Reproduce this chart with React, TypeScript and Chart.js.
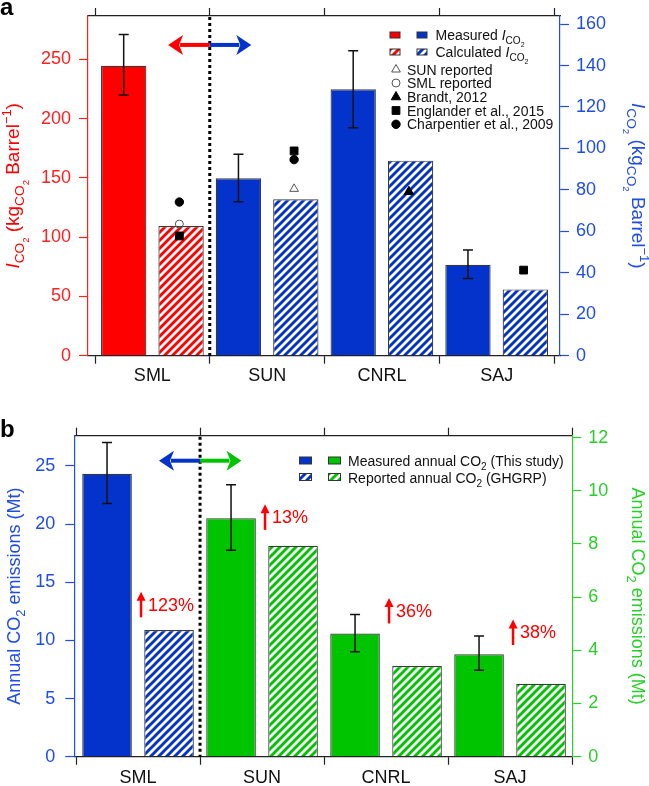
import React, { useEffect, useRef } from 'react';
import { Chart, registerables } from 'chart.js';

Chart.register(...registerables);

const FONT = "'Liberation Sans', Arial, Helvetica, sans-serif";
Chart.defaults.font.family = FONT;

// ---------------- Panel a data ----------------
const categories = ['SML', 'SUN', 'CNRL', 'SAJ'];
// true -> value belongs to the left (red) axis, false -> right (blue) axis
const onLeftAxisA = [true, false, false, false];
const measuredICO2 = [244.6, 85.6, 128.5, 43.9];
const measuredICO2Low = [219.9, 74.3, 110.0, 37.3];
const measuredICO2High = [271.0, 97.2, 147.1, 51.0];
const calculatedICO2 = [109.4, 75.5, 94.1, 32.0];
const sunReported = [null, 80.5, null, null];
const smlReported = [111.0, null, null, null];
const brandt2012 = [null, null, 79.1, null];
const englander2015 = [101.0, 98.8, null, 41.3];
const charpentier2009 = [129.6, 94.6, null, null];
const leftTicksA = [0, 50, 100, 150, 200, 250];
const rightTicksA = [0, 20, 40, 60, 80, 100, 120, 140, 160];
const leftMaxA = 286.5;
const rightMaxA = 163.9;
const arrowYA = 262.1;

// ---------------- Panel b data ----------------
const onLeftAxisB = [true, false, false, false];
const measuredAnnual = [24.33, 8.97, 4.63, 3.85];
const measuredAnnualLow = [21.77, 7.76, 3.95, 3.25];
const measuredAnnualHigh = [27.02, 10.23, 5.35, 4.54];
const reportedAnnual = [10.9, 7.93, 3.41, 2.74];
const increaseLabels = ['123%', '13%', '36%', '38%'];
const increaseLabelY = [13.06, 9.0, 5.48, 4.67];
const leftTicksB = [0, 5, 10, 15, 20, 25];
const rightTicksB = [0, 2, 4, 6, 8, 10, 12];
const leftMaxB = 27.6;
const rightMaxB = 12.07;
const arrowYB = 25.45;

// ---------------- styles ----------------
const RED = '#ff0000';
const RED_AXIS = '#ff2020';
const BLUE_BAR = '#0433cc';
const BLUE_AXIS = '#1f4de6';
const GREEN_BAR = '#00c400';
const GREEN_AXIS = '#2ad02a';
const DARK = '#222222';
const BAR_BORDER = '#3a3a3a';
const MARKER_OFFSET = 0.235;
const DIVIDER_AT = 0.5;

function hatch(color: string) {
  const s = 8;
  const c = document.createElement('canvas');
  c.width = s;
  c.height = s;
  const g = c.getContext('2d')!;
  g.fillStyle = '#ffffff';
  g.fillRect(0, 0, s, s);
  g.strokeStyle = color;
  g.lineWidth = 2.9;
  g.beginPath();
  g.moveTo(0, s); g.lineTo(s, 0);
  g.moveTo(-s / 2, s / 2); g.lineTo(s / 2, -s / 2);
  g.moveTo(s / 2, s * 1.5); g.lineTo(s * 1.5, s / 2);
  g.stroke();
  return g.createPattern(c, 'repeat')!;
}

// ---------------- rich text ----------------
const KIND: any = {
  n: { s: 1, dy: 0, it: false },
  i: { s: 1, dy: 0, it: true },
  sub: { s: 0.72, dy: 0.28, it: false },
  ss: { s: 0.5, dy: 0.5, it: false },
  sup: { s: 0.68, dy: -0.42, it: false },
};
function setFont(ctx: any, k: string, size: number) {
  const d = KIND[k || 'n'];
  ctx.font = `${d.it ? 'italic ' : ''}${size * d.s}px ${FONT}`;
}
function richWidth(ctx: any, segs: any[], size: number) {
  let w = 0;
  for (const [t, k] of segs) { setFont(ctx, k, size); w += ctx.measureText(t).width; }
  return w;
}
function drawRich(ctx: any, segs: any[], x: number, y: number, size: number, color: string) {
  ctx.fillStyle = color;
  ctx.textAlign = 'left';
  ctx.textBaseline = 'alphabetic';
  let cx = x;
  for (const [t, k] of segs) {
    setFont(ctx, k, size);
    ctx.fillText(t, cx, y + KIND[k || 'n'].dy * size);
    cx += ctx.measureText(t).width;
  }
}
function drawVTitle(ctx: any, segs: any[], xBase: number, yCenter: number, size: number, color: string, dir: number) {
  const w = richWidth(ctx, segs, size);
  ctx.save();
  ctx.translate(xBase, yCenter);
  ctx.rotate((dir * Math.PI) / 2);
  drawRich(ctx, segs, -w / 2, 0, size, color);
  ctx.restore();
}

// ---------------- drawing helpers ----------------
function drawErrorBars(chart: any) {
  const ctx = chart.ctx;
  chart.data.datasets.forEach((ds: any, di: number) => {
    if (!ds.errLow) return;
    const meta = chart.getDatasetMeta(di);
    const ys = chart.scales[ds.yAxisID];
    meta.data.forEach((el: any, i: number) => {
      const lo = ds.errLow[i];
      const hi = ds.errHigh[i];
      if (lo == null || hi == null) return;
      const x = el.x;
      const y1 = ys.getPixelForValue(lo);
      const y2 = ys.getPixelForValue(hi);
      ctx.save();
      ctx.strokeStyle = '#111';
      ctx.lineWidth = 1.5;
      ctx.beginPath();
      ctx.moveTo(x, y1); ctx.lineTo(x, y2);
      ctx.moveTo(x - 5, y1); ctx.lineTo(x + 5, y1);
      ctx.moveTo(x - 5, y2); ctx.lineTo(x + 5, y2);
      ctx.stroke();
      ctx.restore();
    });
  });
}
function drawDivider(ctx: any, x: number, ca: any) {
  ctx.save();
  ctx.strokeStyle = '#000';
  ctx.lineWidth = 3;
  ctx.setLineDash([3, 3]);
  ctx.beginPath();
  ctx.moveTo(x, ca.top + 1);
  ctx.lineTo(x, ca.bottom);
  ctx.stroke();
  ctx.restore();
}
function drawHArrow(ctx: any, x0: number, xTip: number, y: number, color: string) {
  const d = Math.sign(xTip - x0);
  ctx.save();
  ctx.strokeStyle = color;
  ctx.fillStyle = color;
  ctx.lineWidth = 4;
  ctx.beginPath();
  ctx.moveTo(x0, y);
  ctx.lineTo(xTip - d * 12, y);
  ctx.stroke();
  ctx.beginPath();
  ctx.moveTo(xTip, y);
  ctx.lineTo(xTip - d * 15, y - 10);
  ctx.lineTo(xTip - d * 11, y);
  ctx.lineTo(xTip - d * 15, y + 10);
  ctx.closePath();
  ctx.fill();
  ctx.restore();
}
function drawMarker(ctx: any, style: string, x: number, y: number, r: number, fill: string, stroke: string) {
  ctx.save();
  ctx.fillStyle = fill;
  ctx.strokeStyle = stroke;
  ctx.lineWidth = 1;
  ctx.beginPath();
  if (style === 'circle') ctx.arc(x, y, r, 0, Math.PI * 2);
  else if (style === 'rect') { const h = r * Math.SQRT1_2; ctx.rect(x - h, y - h, 2 * h, 2 * h); }
  else {
    ctx.moveTo(x, y - r);
    ctx.lineTo(x + r * 0.866, y + r / 2);
    ctx.lineTo(x - r * 0.866, y + r / 2);
    ctx.closePath();
  }
  ctx.fill();
  ctx.stroke();
  ctx.restore();
}
function swatch(ctx: any, x: number, y: number, w: number, h: number, fill: any) {
  ctx.save();
  ctx.fillStyle = fill;
  ctx.fillRect(x, y, w, h);
  ctx.strokeStyle = '#333';
  ctx.lineWidth = 1;
  ctx.strokeRect(x, y, w, h);
  ctx.restore();
}
function panelLabel(ctx: any, t: string, x: number, y: number) {
  ctx.save();
  ctx.fillStyle = '#000';
  ctx.font = `bold 24px ${FONT}`;
  ctx.textAlign = 'left';
  ctx.textBaseline = 'alphabetic';
  ctx.fillText(t, x, y);
  ctx.restore();
}

// ---------------- scales ----------------
function xScale(position: string, min: number, max: number, height: number, showLabels: boolean, pad: number) {
  return {
    type: 'linear',
    position,
    min,
    max,
    bounds: 'data',
    offset: false,
    afterBuildTicks: (s: any) => { s.ticks = categories.map((_, i) => ({ value: i })); },
    afterFit: (s: any) => { s.height = height; s.paddingLeft = 0; s.paddingRight = 0; s.paddingTop = 0; s.paddingBottom = 0; },
    grid: { display: true, drawOnChartArea: false, drawTicks: true, tickLength: 8, offset: true, color: DARK, tickColor: DARK, tickWidth: 1.2 },
    border: { display: true, color: DARK, width: 1.2 },
    ticks: {
      display: showLabels,
      padding: pad,
      color: '#111',
      maxRotation: 0,
      autoSkip: false,
      font: { size: 18, family: FONT },
      callback: (v: any) => categories[v] ?? '',
    },
  };
}
function yScale(position: string, max: number, ticks: number[], color: string, width: number, pad: number) {
  return {
    type: 'linear',
    position,
    min: 0,
    max,
    bounds: 'data',
    afterBuildTicks: (s: any) => { s.ticks = ticks.map((v) => ({ value: v })); },
    afterFit: (s: any) => { s.width = width; s.paddingTop = 0; s.paddingBottom = 0; s.paddingLeft = 0; s.paddingRight = 0; },
    grid: { display: true, drawOnChartArea: false, drawTicks: true, tickLength: 9, color, tickColor: color, tickWidth: 1.2 },
    border: { display: true, color, width: 1.2 },
    ticks: { color, padding: pad, font: { size: 18, family: FONT }, callback: (v: any) => String(v) },
  };
}

function split(vals: any[], onLeft: boolean[], wantLeft: boolean) {
  return vals.map((v, i) => (onLeft[i] === wantLeft ? v : null));
}
function barData(vals: any[]) {
  return vals.map((v, i) => ({ x: i, y: v }));
}
function markerData(vals: any[]) {
  return vals.map((v, i) => ({ x: i + MARKER_OFFSET, y: v }));
}

// ---------------- panel a ----------------
function configA(): any {
  const redHatch = hatch(RED);
  const blueHatch = hatch(BLUE_BAR);
  const barCommon = { borderColor: BAR_BORDER, borderWidth: 1.2, categoryPercentage: 1, barPercentage: 0.79, skipNull: true, order: 2 };
  const markerSeries = [
    { vals: sunReported, style: 'triangle', r: 5, bg: 'rgba(0,0,0,0)', bd: '#555' },
    { vals: smlReported, style: 'circle', r: 4, bg: 'rgba(0,0,0,0)', bd: '#555' },
    { vals: brandt2012, style: 'triangle', r: 5.5, bg: '#000', bd: '#000' },
    { vals: englander2015, style: 'rect', r: 5.5, bg: '#000', bd: '#000' },
    { vals: charpentier2009, style: 'circle', r: 4.2, bg: '#000', bd: '#000' },
  ];
  const markerSets: any[] = [];
  markerSeries.forEach((m) => {
    [true, false].forEach((left) => {
      markerSets.push({
        type: 'line',
        showLine: false,
        order: 0,
        yAxisID: left ? 'yL' : 'yR',
        data: markerData(split(m.vals, onLeftAxisA, left)),
        pointStyle: m.style,
        pointRadius: m.r,
        pointBackgroundColor: m.bg,
        pointBorderColor: m.bd,
        pointBorderWidth: 1,
      });
    });
  });
  const plugin = {
    id: 'decoA',
    afterDatasetsDraw(chart: any) { drawErrorBars(chart); },
    afterDraw(chart: any) {
      const ctx = chart.ctx;
      const xs = chart.scales.x;
      const yL = chart.scales.yL;
      const ca = chart.chartArea;
      drawDivider(ctx, xs.getPixelForValue(DIVIDER_AT), ca);
      const ay = yL.getPixelForValue(arrowYA);
      const x0 = xs.getPixelForValue(DIVIDER_AT);
      drawHArrow(ctx, x0, xs.getPixelForValue(DIVIDER_AT - 0.363), ay, RED);
      drawHArrow(ctx, x0, xs.getPixelForValue(DIVIDER_AT + 0.362), ay, BLUE_BAR);
      // legend
      const ICO2: any[] = [['I', 'i'], ['CO', 'sub'], ['2', 'ss']];
      swatch(ctx, 390, 32, 10, 6, RED);
      swatch(ctx, 417, 32, 10, 6, BLUE_BAR);
      drawRich(ctx, [['Measured '], ...ICO2], 435.5, 40, 14, '#111');
      swatch(ctx, 390, 49, 10, 6, redHatch);
      swatch(ctx, 417, 49, 10, 6, blueHatch);
      drawRich(ctx, [['Calculated '], ...ICO2], 435.5, 57.3, 14, '#111');
      const rows = [
        ['triangle', 5, 'rgba(0,0,0,0)', '#555', 'SUN reported'],
        ['circle', 4, 'rgba(0,0,0,0)', '#555', 'SML reported'],
        ['triangle', 5.5, '#000', '#000', 'Brandt, 2012'],
        ['rect', 5.5, '#000', '#000', 'Englander et al., 2015'],
        ['circle', 4.2, '#000', '#000', 'Charpentier et al., 2009'],
      ];
      const rowY = [69.5, 83, 97, 110.5, 124.3];
      rows.forEach((r: any, k) => {
        drawMarker(ctx, r[0], 396, rowY[k], r[1], r[2], r[3]);
        drawRich(ctx, [[r[4]]], 407, rowY[k] + 5, 14, '#111');
      });
      // axis titles
      const cy = (ca.top + ca.bottom) / 2;
      const title: any[] = [['I', 'i'], ['CO', 'sub'], ['2', 'ss'], [' (kg'], ['CO', 'sub'], ['2', 'ss'], [' Barrel'], ['\u22121', 'sup'], [')']];
      drawVTitle(ctx, title, 19, cy, 19, RED, -1);
      drawVTitle(ctx, title, 632, cy, 19, BLUE_AXIS, 1);
      panelLabel(ctx, 'a', 0, 15);
    },
  };
  return {
    type: 'bar',
    data: {
      datasets: [
        { ...barCommon, yAxisID: 'yL', data: barData(split(measuredICO2, onLeftAxisA, true)), backgroundColor: RED,
          errLow: split(measuredICO2Low, onLeftAxisA, true), errHigh: split(measuredICO2High, onLeftAxisA, true) },
        { ...barCommon, yAxisID: 'yL', data: barData(split(calculatedICO2, onLeftAxisA, true)), backgroundColor: redHatch },
        { ...barCommon, yAxisID: 'yR', data: barData(split(measuredICO2, onLeftAxisA, false)), backgroundColor: BLUE_BAR,
          errLow: split(measuredICO2Low, onLeftAxisA, false), errHigh: split(measuredICO2High, onLeftAxisA, false) },
        { ...barCommon, yAxisID: 'yR', data: barData(split(calculatedICO2, onLeftAxisA, false)), backgroundColor: blueHatch },
        ...markerSets,
      ],
    },
    options: {
      responsive: false,
      animation: false,
      devicePixelRatio: 1,
      events: [],
      layout: { padding: 0, autoPadding: false },
      plugins: { legend: { display: false }, tooltip: { enabled: false }, title: { display: false } },
      scales: {
        x: xScale('bottom', -0.561, 3.552, 39.3, true, 2),
        xTop: xScale('top', -0.561, 3.552, 16, false, 0),
        yL: yScale('left', leftMaxA, leftTicksA, RED_AXIS, 88, 8),
        yR: yScale('right', rightMaxA, rightTicksA, BLUE_AXIS, 89, 7),
      },
    },
    plugins: [plugin],
  };
}

// ---------------- panel b ----------------
function configB(): any {
  const blueHatch = hatch(BLUE_BAR);
  const greenHatch = hatch(GREEN_BAR);
  const barCommon = { borderColor: BAR_BORDER, borderWidth: 1.2, categoryPercentage: 1, barPercentage: 0.8, skipNull: true, order: 2 };
  const plugin = {
    id: 'decoB',
    afterDatasetsDraw(chart: any) { drawErrorBars(chart); },
    afterDraw(chart: any) {
      const ctx = chart.ctx;
      const xs = chart.scales.x;
      const yL = chart.scales.yL;
      const yR = chart.scales.yR;
      const ca = chart.chartArea;
      drawDivider(ctx, xs.getPixelForValue(DIVIDER_AT), ca);
      const ay = yL.getPixelForValue(arrowYB);
      const x0 = xs.getPixelForValue(DIVIDER_AT);
      drawHArrow(ctx, x0, xs.getPixelForValue(DIVIDER_AT - 0.331), ay, BLUE_BAR);
      drawHArrow(ctx, x0, xs.getPixelForValue(DIVIDER_AT + 0.334), ay, GREEN_BAR);
      // increase annotations
      categories.forEach((_, i) => {
        const ys = onLeftAxisB[i] ? yL : yR;
        const yc = ys.getPixelForValue(increaseLabelY[i]);
        const xa = xs.getPixelForValue(i) + 3;
        ctx.save();
        ctx.strokeStyle = RED;
        ctx.fillStyle = RED;
        ctx.lineWidth = 2.5;
        ctx.beginPath();
        ctx.moveTo(xa, yc + 12.5);
        ctx.lineTo(xa, yc - 6);
        ctx.stroke();
        ctx.beginPath();
        ctx.moveTo(xa, yc - 13);
        ctx.lineTo(xa + 4.5, yc - 4);
        ctx.lineTo(xa - 4.5, yc - 4);
        ctx.closePath();
        ctx.fill();
        ctx.font = `18px ${FONT}`;
        ctx.textAlign = 'left';
        ctx.textBaseline = 'middle';
        ctx.fillText(increaseLabels[i], xa + 7, yc + 1);
        ctx.restore();
      });
      // legend
      swatch(ctx, 299.5, 62, 12, 7, BLUE_BAR);
      swatch(ctx, 328.5, 62, 12, 7, GREEN_BAR);
      drawRich(ctx, [['Measured annual CO'], ['2', 'sub'], [' (This study)']], 348, 71, 14, '#111');
      swatch(ctx, 299.5, 78.5, 12, 7, blueHatch);
      swatch(ctx, 328.5, 78.5, 12, 7, greenHatch);
      drawRich(ctx, [['Reported annual CO'], ['2', 'sub'], [' (GHGRP)']], 348, 87.7, 14, '#111');
      // titles
      const cy = (ca.top + ca.bottom) / 2;
      const title: any[] = [['Annual CO'], ['2', 'sub'], [' emissions (Mt)']];
      drawVTitle(ctx, title, 20, cy, 18, BLUE_AXIS, -1);
      drawVTitle(ctx, title, 632, cy, 18, GREEN_AXIS, 1);
      panelLabel(ctx, 'b', 0, 41.7);
    },
  };
  return {
    type: 'bar',
    data: {
      datasets: [
        { ...barCommon, yAxisID: 'yL', data: barData(split(measuredAnnual, onLeftAxisB, true)), backgroundColor: BLUE_BAR,
          errLow: split(measuredAnnualLow, onLeftAxisB, true), errHigh: split(measuredAnnualHigh, onLeftAxisB, true) },
        { ...barCommon, yAxisID: 'yL', data: barData(split(reportedAnnual, onLeftAxisB, true)), backgroundColor: blueHatch },
        { ...barCommon, yAxisID: 'yR', data: barData(split(measuredAnnual, onLeftAxisB, false)), backgroundColor: GREEN_BAR,
          errLow: split(measuredAnnualLow, onLeftAxisB, false), errHigh: split(measuredAnnualHigh, onLeftAxisB, false) },
        { ...barCommon, yAxisID: 'yR', data: barData(split(reportedAnnual, onLeftAxisB, false)), backgroundColor: greenHatch },
      ],
    },
    options: {
      responsive: false,
      animation: false,
      devicePixelRatio: 1,
      events: [],
      layout: { padding: 0, autoPadding: false },
      plugins: { legend: { display: false }, tooltip: { enabled: false }, title: { display: false } },
      scales: {
        x: xScale('bottom', -0.514, 3.502, 29.3, true, 3),
        xTop: xScale('top', -0.514, 3.502, 40.7, false, 0),
        yL: yScale('left', leftMaxB, leftTicksB, BLUE_AXIS, 74.3, 10),
        yR: yScale('right', rightMaxB, rightTicksB, GREEN_AXIS, 76.7, 7),
      },
    },
    plugins: [plugin],
  };
}

export default function App() {
  const refA = useRef<HTMLCanvasElement>(null);
  const refB = useRef<HTMLCanvasElement>(null);
  useEffect(() => {
    const a = new Chart(refA.current!, configA());
    const b = new Chart(refB.current!, configB());
    return () => {
      a.destroy();
      b.destroy();
    };
  }, []);
  return (
    <div style={{ position: 'absolute', left: 0, top: 0, width: 649, height: 786, background: '#ffffff' }}>
      <canvas ref={refA} width={649} height={395} style={{ position: 'absolute', left: 0, top: 0 }} />
      <canvas ref={refB} width={649} height={391} style={{ position: 'absolute', left: 0, top: 395 }} />
    </div>
  );
}
